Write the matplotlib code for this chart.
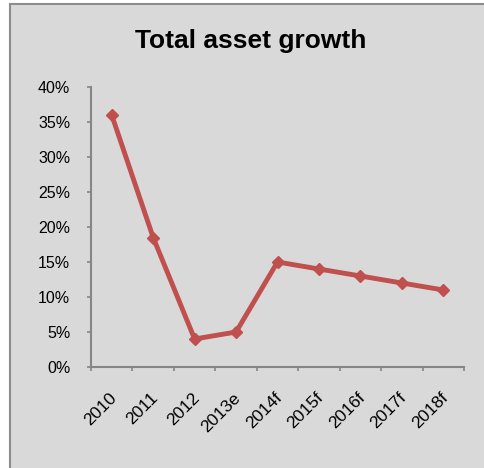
import matplotlib.pyplot as plt
from matplotlib.patches import Rectangle
from matplotlib.ticker import FuncFormatter
from matplotlib.transforms import ScaledTranslation

# Chart data
Years = ["2010", "2011", "2012", "2013e", "2014f", "2015f", "2016f", "2017f", "2018f"]
Growth = [36, 18.5, 4, 5, 15, 14, 13, 12, 11]

plt.rcParams['font.family'] = ['Liberation Sans', 'DejaVu Sans']

fig = plt.figure(figsize=(4.84, 4.68), dpi=100)
fig.patch.set_facecolor("white")

# grey chart area with a border on the top and left edges
fig.add_artist(Rectangle((10 / 484, 0), 1, 1 - 4 / 468, transform=fig.transFigure,
                         facecolor="#d9d9d9", edgecolor="none", zorder=-10))
fig.add_artist(plt.Line2D([9.5 / 484, 9.5 / 484], [0, 1 - 3.5 / 468], transform=fig.transFigure,
                          color="#8c8c8c", lw=1.5, zorder=-5))
fig.add_artist(plt.Line2D([9.5 / 484, 1], [1 - 3.5 / 468, 1 - 3.5 / 468], transform=fig.transFigure,
                          color="#8c8c8c", lw=1.5, zorder=-5))

ax = fig.add_axes([91 / 484, 1 - 367 / 468, (464 - 91) / 484, (367 - 87) / 468])
ax.set_facecolor("none")

x = range(len(Years))
ax.plot(x, Growth, color="#c0504d", lw=3.5, marker="D", markersize=6, solid_joinstyle="round")

ax.set_xlim(-0.5, len(Years) - 0.5)
ax.set_ylim(0, 40)
ax.set_yticks(range(0, 41, 5))
ax.yaxis.set_major_formatter(FuncFormatter(lambda v, p: f"{v:.0f}%"))

ax.set_xticks([i - 0.5 for i in range(len(Years) + 1)], minor=False)
ax.set_xticklabels([])
ax.set_xticks(list(x), minor=True)
ax.set_xticklabels(Years, minor=True, rotation=45, ha="right", rotation_mode="anchor")
ax.tick_params(axis="x", which="minor", length=0, pad=16.5, labelsize=12.5)
ax.tick_params(axis="x", which="major", length=3, direction="out", color="#868686", width=1.2)
ax.tick_params(axis="y", length=3, direction="out", color="#868686", width=1.2, labelsize=11.5, pad=12)

# small nudge of the rotated labels, like the original
shift = ScaledTranslation(-3 / 100, 0, fig.dpi_scale_trans)
for lbl in ax.get_xticklabels(minor=True):
    lbl.set_transform(lbl.get_transform() + shift)

for side in ["top", "right"]:
    ax.spines[side].set_visible(False)
for side in ["left", "bottom"]:
    ax.spines[side].set_color("#868686")
    ax.spines[side].set_linewidth(1.5)

fig.text(251 / 484, 1 - 41 / 468, "Total asset growth", ha="center", va="center",
         fontsize=19, fontweight="bold")

fig.savefig("out.png", dpi=100)
